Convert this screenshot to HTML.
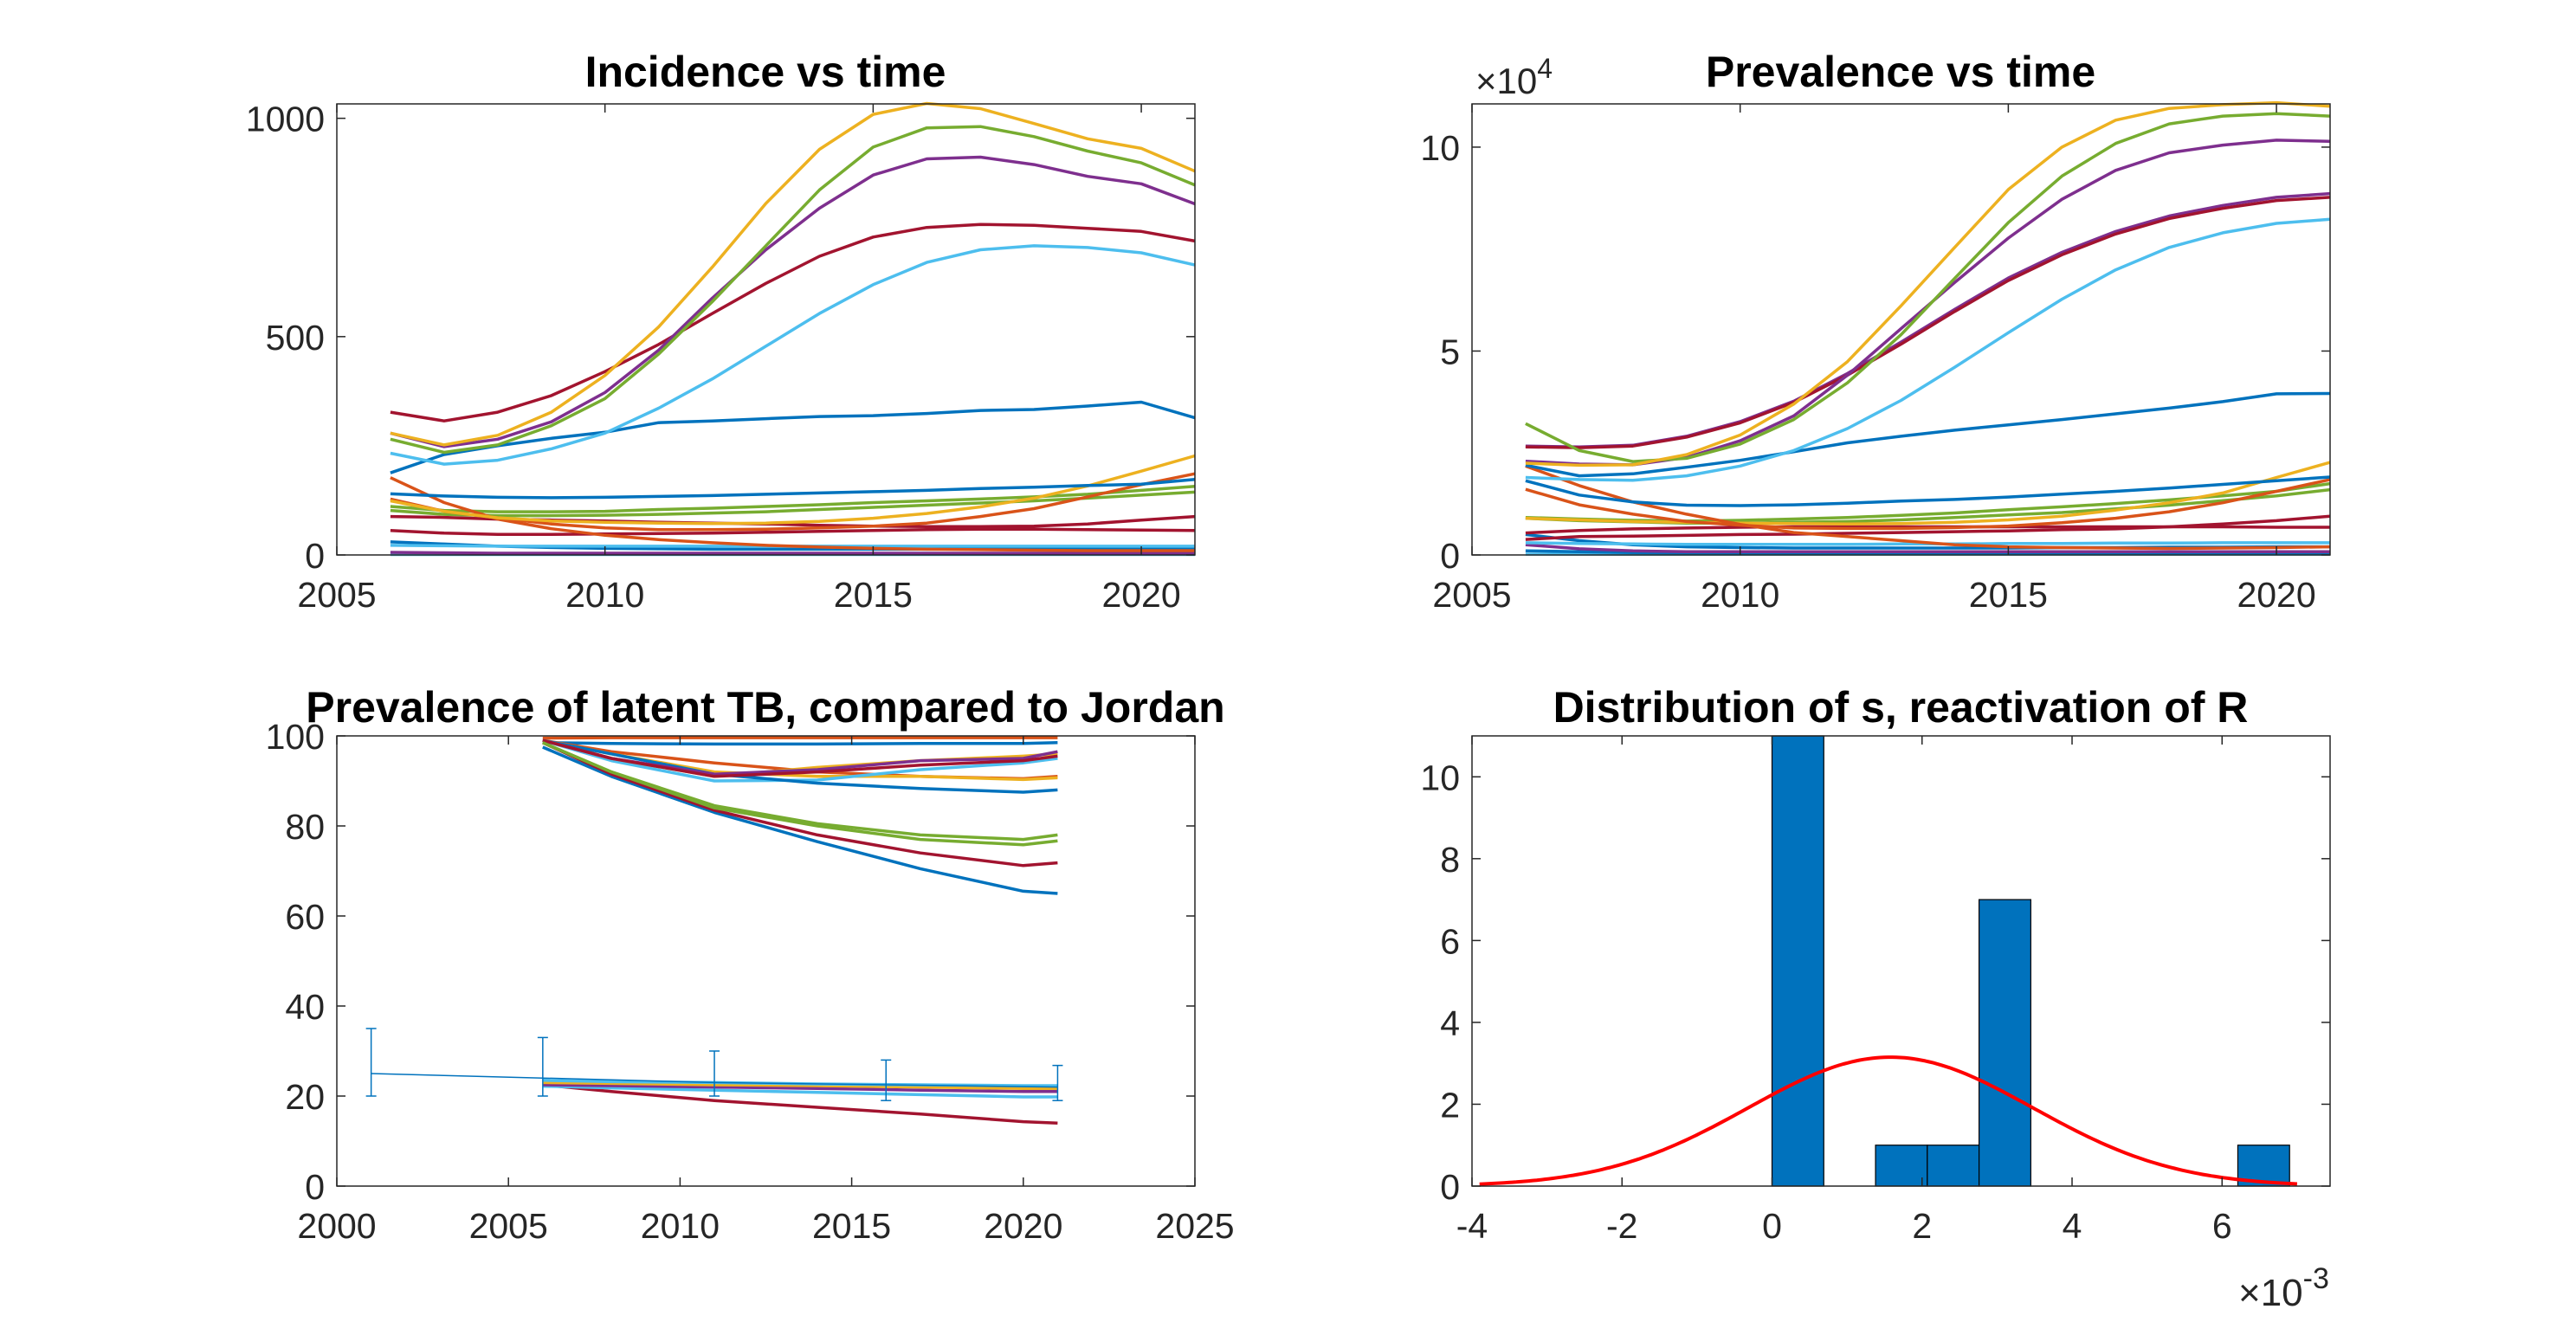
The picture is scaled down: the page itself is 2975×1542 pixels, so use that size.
<!DOCTYPE html>
<html><head><meta charset="utf-8">
<style>
html,body{margin:0;padding:0;background:#fff;}
svg{display:block;font-family:"Liberation Sans",sans-serif;}
</style></head>
<body>
<svg id="fig" width="2975" height="1542" viewBox="0 0 2975 1542" xmlns="http://www.w3.org/2000/svg"></svg>
<script>
// ---------- Chart 1: Incidence vs time ----------
const incYears = [2006,2007,2008,2009,2010,2011,2012,2013,2014,2015,2016,2017,2018,2019,2020,2021];
const incYellow = [279,252,274,327,411,522,659,805,929,1009,1034,1022,988,953,931,879];
const incGreen = [265,235,252,296,358,460,580,708,836,934,978,981,958,925,898,847];
const incPurple = [279,248,265,305,372,469,588,699,794,870,907,911,894,867,850,804];
const incDarkRed = [327,307,327,365,420,482,553,622,684,728,750,757,755,748,741,719];
const incLightBlue = [233,208,217,243,279,336,403,478,553,619,670,699,708,704,692,664];
const incBlue = [188,230,250,267,281,303,307,312,317,319,324,331,333,341,350,314];
const incBlue2 = [140,135,132,131,132,134,136,139,142,145,148,152,155,159,162,173];
const incYellow2 = [124,100,85,78,75,73,72,73,77,84,95,110,130,158,192,227];
const incOrange = [177,120,82,60,45,35,28,22,18,15,13,12,11,10,10,10];
const incOrange2 = [128,100,85,71,62,58,58,59,62,66,73,88,106,133,161,186];
const incGreen2 = [111,102,99,99,100,104,107,111,115,120,124,128,133,139,148,157];
const incGreen3 = [102,93,90,90,91,93,96,99,104,109,114,119,124,130,137,144];
const incDarkRed2 = [88,86,82,80,78,75,73,71,68,66,65,65,66,71,80,88];
const incDarkRed3 = [56,50,47,47,48,49,50,52,54,56,58,59,59,58,57,56];
const incLightBlue2 = [22,21,20,20,20,20,20,20,20,20,20,20,20,20,20,20];
const incBlue3 = [30,25,20,17,15,14,13,13,13,13,13,14,14,15,15,16];
const incPurple2 = [6,5,4,4,4,4,4,4,4,4,4,4,4,4,4,4];
const incLightBlue3 = [1,1,1,1,1,1,1,1,1,1,1,1,1,1,1,1];
const incYTicks = [0,500,1000];
const incXTicks = [2005,2010,2015,2020];

// ---------- Chart 2: Prevalence vs time (x1e4) ----------
const prevYears = [2006,2007,2008,2009,2010,2011,2012,2013,2014,2015,2016,2017,2018,2019,2020,2021];
const prevYellow = [2.25,2.2,2.21,2.46,2.94,3.7,4.74,6.11,7.54,8.96,10.0,10.66,10.95,11.04,11.09,11.0];
const prevGreen = [3.22,2.56,2.29,2.37,2.72,3.32,4.22,5.4,6.78,8.15,9.29,10.09,10.57,10.76,10.82,10.76];
const prevPurple = [2.3,2.23,2.21,2.39,2.8,3.41,4.41,5.55,6.68,7.77,8.72,9.43,9.86,10.05,10.17,10.14];
const prevPurple2 = [2.67,2.65,2.69,2.91,3.27,3.77,4.45,5.22,6.02,6.79,7.42,7.93,8.31,8.57,8.77,8.86];
const prevDarkRed = [2.65,2.63,2.67,2.89,3.24,3.74,4.41,5.17,5.97,6.73,7.36,7.87,8.25,8.5,8.69,8.77];
const prevLightBlue = [1.9,1.85,1.83,1.94,2.18,2.56,3.1,3.79,4.6,5.45,6.27,6.99,7.54,7.9,8.13,8.23];
const prevBlue = [2.2,1.94,1.99,2.15,2.32,2.53,2.75,2.91,3.06,3.19,3.32,3.46,3.6,3.76,3.95,3.96];
const prevBlue2 = [1.82,1.47,1.3,1.22,1.21,1.23,1.27,1.32,1.36,1.42,1.49,1.56,1.64,1.73,1.82,1.91];
const prevOrange = [2.18,1.7,1.3,1.0,0.75,0.55,0.45,0.35,0.25,0.2,0.18,0.17,0.16,0.17,0.18,0.2];
const prevOrange2 = [1.61,1.23,1.0,0.82,0.73,0.66,0.65,0.65,0.67,0.71,0.79,0.9,1.06,1.28,1.56,1.85];
const prevYellow2 = [0.9,0.86,0.82,0.8,0.78,0.77,0.76,0.77,0.8,0.86,0.95,1.1,1.28,1.52,1.9,2.27];
const prevGreen2 = [0.92,0.88,0.85,0.83,0.85,0.88,0.92,0.97,1.03,1.11,1.18,1.26,1.35,1.45,1.56,1.75];
const prevGreen3 = [0.9,0.84,0.81,0.78,0.78,0.8,0.82,0.86,0.92,0.98,1.04,1.13,1.22,1.33,1.45,1.6];
const prevDarkRed2 = [0.54,0.6,0.64,0.66,0.68,0.69,0.69,0.69,0.69,0.69,0.69,0.69,0.69,0.69,0.68,0.68];
const prevDarkRed3 = [0.38,0.45,0.46,0.48,0.5,0.51,0.53,0.55,0.57,0.59,0.62,0.64,0.69,0.76,0.84,0.95];
const prevLightBlue2 = [0.3,0.28,0.27,0.26,0.26,0.26,0.26,0.27,0.27,0.28,0.28,0.29,0.29,0.3,0.3,0.3];
const prevBlue3 = [0.5,0.35,0.25,0.2,0.18,0.17,0.17,0.17,0.17,0.17,0.18,0.18,0.19,0.19,0.2,0.2];
const prevPurple3 = [0.25,0.15,0.1,0.08,0.08,0.08,0.08,0.08,0.08,0.08,0.08,0.08,0.08,0.08,0.08,0.08];
const prevBlue4 = [0.1,0.08,0.06,0.05,0.05,0.05,0.05,0.05,0.05,0.05,0.05,0.05,0.05,0.05,0.05,0.05];
const prevLightBlue3 = [0.02,0.02,0.02,0.02,0.02,0.02,0.02,0.02,0.02,0.02,0.02,0.02,0.02,0.02,0.02,0.02];
const prevYTicks = [0,5,10];
const prevXTicks = [2005,2010,2015,2020];

// ---------- Chart 3: Latent TB ----------
const latYears = [2006,2008,2011,2014,2017,2020,2021];
const latOrange = [99.5,99.6,99.6,99.6,99.6,99.6,99.6];
const latBlue = [98.5,98.3,98.2,98.2,98.3,98.3,98.5];
const latOrange2 = [99,96.5,94,92,91,90.5,91];
const latYellow = [99,96,92,91,91,90.3,90.7];
const latYellow2 = [99,95,91,93,94.5,95.5,96];
const latPurple = [99,95,91.5,92.5,94.5,95,96.5];
const latDarkRed = [99,95,91,92,93.5,94.5,95.5];
const latLightBlue = [99,94.5,90,90.2,92.5,94,95];
const latBlue2 = [99,96,91.5,89.5,88.3,87.5,88];
const latGreen = [98.5,92,84.5,80.5,78,77,78];
const latGreen2 = [98.5,92,84,80,77,75.8,76.7];
const latDarkRed2 = [98.5,91.5,83.5,78,74,71.2,71.8];
const latBlue3 = [97.5,91,83,76.5,70.5,65.5,65];
const latLowLightBlue = [23.5,23.2,23,22.7,22.5,22.3,22.3];
const latLowYellow = [23,22.8,22.5,22.3,22,21.7,21.7];
const latLowPurple = [22.5,22.3,22,21.7,21.3,21,21];
const latLowLightBlue2 = [22.2,21.8,21.3,20.8,20.3,19.8,19.8];
const latLowDarkRed = [22.5,21,19,17.5,16,14.3,14];
const obsYears = [2001,2006,2011,2016,2021];
const obsValues = [25,24,23,22.5,22];
const obsLower = [20,20,20,19,19];
const obsUpper = [35,33,30,28,26.8];
const latYTicks = [0,20,40,60,80,100];
const latXTicks = [2000,2005,2010,2015,2020,2025];

// ---------- Chart 4: Histogram (x1e-3) ----------
const binEdges = [0,0.69,1.38,2.07,2.76,3.45,4.14,4.83,5.52,6.21,6.9];
const binCounts = [11,0,1,1,7,0,0,0,0,1];
const fitMean = 1.58;
const fitSd = 1.9;
const fitPeak = 3.15;
const fitRange = [-3.9,7.0];
const histYTicks = [0,2,4,6,8,10];
const histXTicks = [-4,-2,0,2,4,6];

const C = {blue:'#0072BD',orange:'#D95319',yellow:'#EDB120',purple:'#7E2F8E',green:'#77AC30',lblue:'#4DBEEE',red:'#A2142F'};
const NS = 'http://www.w3.org/2000/svg';
const svg = document.getElementById('fig');
function mk(tag, attrs, parent){
  const e = document.createElementNS(NS, tag);
  for (const k in attrs) e.setAttribute(k, attrs[k]);
  (parent||svg).appendChild(e);
  return e;
}
function makeAxes(name, L, R, T, B, xmin, xmax, ymin, ymax){
  const g = mk('g', {});
  
  
  return {g, L, R, T, B,
    sx: v => L + (v - xmin) / (xmax - xmin) * (R - L),
    sy: v => B - (v - ymin) / (ymax - ymin) * (B - T)};
}
function drawFrame(ax, xt, yt, xfmt, yfmt, prefix){
  const g = ax.g;
  const fr = mk('rect', {x:ax.L, y:ax.T, width:ax.R-ax.L, height:ax.B-ax.T, fill:'none', stroke:'#262626', 'stroke-width':1.5}, g);
  
  
  xt.forEach(v => {
    const x = ax.sx(v);
    mk('line', {x1:x, x2:x, y1:ax.B, y2:ax.B-10, stroke:'#262626', 'stroke-width':1.5}, g);
    mk('line', {x1:x, x2:x, y1:ax.T, y2:ax.T+10, stroke:'#262626', 'stroke-width':1.5}, g);
    const t = mk('text', {x:x, y:ax.B+60, 'text-anchor':'middle', 'font-size':41, fill:'#262626'}, g);
    t.textContent = xfmt(v);
    
    
  });
  yt.forEach(v => {
    const y = ax.sy(v);
    mk('line', {x1:ax.L, x2:ax.L+10, y1:y, y2:y, stroke:'#262626', 'stroke-width':1.5}, g);
    mk('line', {x1:ax.R, x2:ax.R-10, y1:y, y2:y, stroke:'#262626', 'stroke-width':1.5}, g);
    const t = mk('text', {x:ax.L-14, y:y+15, 'text-anchor':'end', 'font-size':41, fill:'#262626'}, g);
    t.textContent = yfmt(v);
    
    
  });
}
function title(txt, cx, y, name){
  const t = mk('text', {x:cx, y:y, 'text-anchor':'middle', 'font-size':50, 'font-weight':'bold', fill:'#000'});
  t.textContent = txt;
  
  
}
function series(ax, xs, ys, color, name, w){
  const d = xs.map((x,i) => (i? 'L':'M') + ax.sx(x).toFixed(1) + ' ' + ax.sy(ys[i]).toFixed(1)).join(' ');
  const p = mk('path', {d:d, fill:'none', stroke:color, 'stroke-width':w||3.5, 'stroke-linejoin':'round'}, ax.g);
  
  
}

// Chart 1
const a1 = makeAxes('incidence-chart', 389, 1380, 120, 641, 2005, 2021, 0, 1033);
[[incLightBlue3,C.lblue],[incPurple2,C.purple],[incBlue3,C.blue],[incLightBlue2,C.lblue],[incDarkRed3,C.red],[incDarkRed2,C.red],
 [incGreen3,C.green],[incGreen2,C.green],[incOrange,C.orange],[incOrange2,C.orange],[incYellow2,C.yellow],[incBlue2,C.blue],
 [incBlue,C.blue],[incLightBlue,C.lblue],[incDarkRed,C.red],[incPurple,C.purple],[incGreen,C.green],[incYellow,C.yellow]]
 .forEach((s,i) => series(a1, incYears, s[0], s[1], 'incidence-line-' + i));
drawFrame(a1, incXTicks, incYTicks, v=>String(v), v=>String(v), 'incidence');
title('Incidence vs time', 884, 100, 'incidence-title');

// Chart 2
const a2 = makeAxes('prevalence-chart', 1700, 2691, 120, 641, 2005, 2021, 0, 11.06);
[[prevLightBlue3,C.lblue],[prevBlue4,C.blue],[prevPurple3,C.purple],[prevBlue3,C.blue],[prevLightBlue2,C.lblue],[prevDarkRed3,C.red],
 [prevDarkRed2,C.red],[prevGreen3,C.green],[prevGreen2,C.green],[prevYellow2,C.yellow],[prevOrange2,C.orange],[prevOrange,C.orange],
 [prevBlue2,C.blue],[prevBlue,C.blue],[prevLightBlue,C.lblue],[prevPurple2,C.purple],[prevDarkRed,C.red],[prevPurple,C.purple],
 [prevGreen,C.green],[prevYellow,C.yellow]]
 .forEach((s,i) => series(a2, prevYears, s[0], s[1], 'prevalence-line-' + i));
drawFrame(a2, prevXTicks, prevYTicks, v=>String(v), v=>String(v), 'prevalence');
title('Prevalence vs time', 2195, 100, 'prevalence-title');
const e4 = mk('text', {x:1704, y:108, 'font-size':42, fill:'#262626'});
e4.innerHTML = '×10<tspan dy="-18" font-size="32">4</tspan>';



// Chart 3
const a3 = makeAxes('latent-tb-chart', 389, 1380, 850, 1370, 2000, 2025, 0, 100);
[[latOrange,C.orange],[latBlue,C.blue],[latOrange2,C.orange],[latYellow,C.yellow],[latLightBlue,C.lblue],[latBlue2,C.blue],
 [latYellow2,C.yellow],[latPurple,C.purple],[latDarkRed,C.red],[latBlue3,C.blue],[latDarkRed2,C.red],[latGreen2,C.green],[latGreen,C.green],
 [latLowDarkRed,C.red],[latLowLightBlue2,C.lblue],[latLowPurple,C.purple],[latLowYellow,C.yellow],[latLowLightBlue,C.lblue]]
 .forEach((s,i) => series(a3, latYears, s[0], s[1], 'latent-line-' + i));
series(a3, obsYears, obsValues, C.blue, 'jordan-observed-line', 1.5);
obsYears.forEach((yr,i) => {
  const x = a3.sx(yr);
  const g = mk('g', {stroke:C.blue, 'stroke-width':1.5}, a3.g);
  
  
  mk('line', {x1:x, x2:x, y1:a3.sy(obsLower[i]), y2:a3.sy(obsUpper[i])}, g);
  mk('line', {x1:x-6, x2:x+6, y1:a3.sy(obsLower[i]), y2:a3.sy(obsLower[i])}, g);
  mk('line', {x1:x-6, x2:x+6, y1:a3.sy(obsUpper[i]), y2:a3.sy(obsUpper[i])}, g);
});
drawFrame(a3, latXTicks, latYTicks, v=>String(v), v=>String(v), 'latent');
title('Prevalence of latent TB, compared to Jordan', 884, 834, 'latent-title');

// Chart 4
const a4 = makeAxes('histogram-chart', 1700, 2691, 850, 1370, -4, 7.44, 0, 11);
binCounts.forEach((c,i) => {
  if (!c) return;
  const x0 = a4.sx(binEdges[i]), x1 = a4.sx(binEdges[i+1]);
  const r = mk('rect', {x:x0, y:a4.sy(c), width:x1-x0, height:a4.sy(0)-a4.sy(c), fill:C.blue, stroke:'#000', 'stroke-width':1.2}, a4.g);
  
  
});
const fx = [], fy = [];
for (let k = 0; k <= 200; k++) {
  const v = fitRange[0] + (fitRange[1]-fitRange[0]) * k / 200;
  fx.push(v);
  fy.push(fitPeak * Math.exp(-((v-fitMean)**2) / (2*fitSd*fitSd)));
}
series(a4, fx, fy, '#FF0000', 'normal-fit-curve', 4);
drawFrame(a4, histXTicks, histYTicks, v=>String(v), v=>String(v), 'histogram');
title('Distribution of s, reactivation of R', 2195, 834, 'histogram-title');
const e3 = mk('text', {x:2585, y:1508, 'font-size':44, fill:'#262626'});
e3.innerHTML = '×10<tspan dy="-20" font-size="34">-3</tspan>';


</script>
</body></html>
